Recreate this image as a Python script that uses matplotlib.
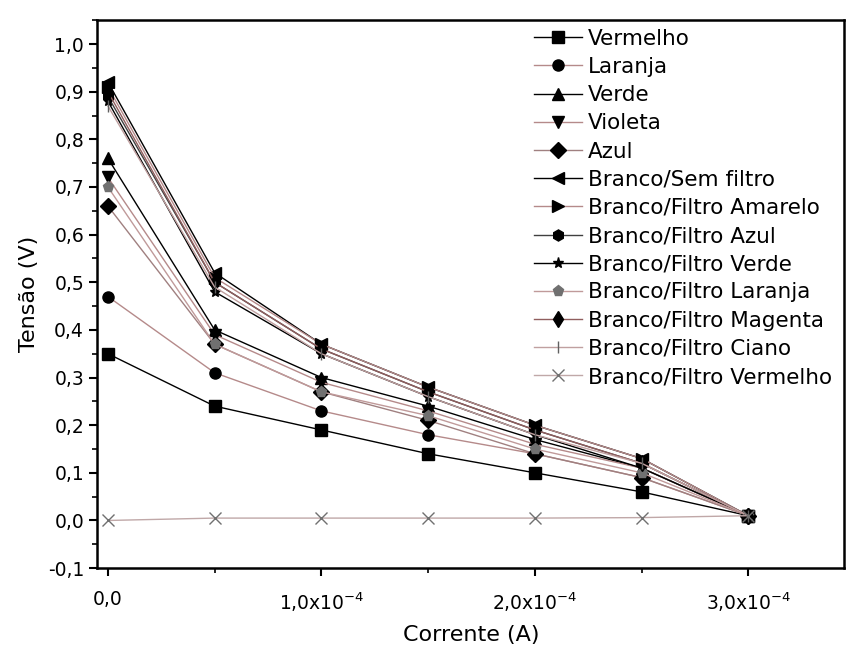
import numpy as np
import matplotlib.pyplot as plt
from matplotlib.ticker import MultipleLocator, FixedLocator

# corrente (unidades de 1e-4 A) e tensões
corrente = [0.0, 0.5, 1.0, 1.5, 2.0, 2.5, 3.0]

vermelho = [0.35, 0.24, 0.19, 0.14, 0.10, 0.06, 0.01]
laranja = [0.47, 0.31, 0.23, 0.18, 0.14, 0.09, 0.01]
verde = [0.76, 0.40, 0.30, 0.24, 0.17, 0.11, 0.01]
violeta = [0.72, 0.39, 0.29, 0.23, 0.16, 0.11, 0.01]
azul = [0.66, 0.37, 0.27, 0.21, 0.14, 0.09, 0.01]
sem_filtro = [0.92, 0.52, 0.37, 0.28, 0.20, 0.13, 0.01]
f_amarelo = [0.91, 0.51, 0.37, 0.28, 0.20, 0.13, 0.01]
f_azul = [0.89, 0.50, 0.36, 0.27, 0.19, 0.12, 0.01]
f_verde = [0.88, 0.48, 0.35, 0.26, 0.18, 0.11, 0.01]
f_laranja = [0.70, 0.37, 0.27, 0.22, 0.15, 0.10, 0.01]
f_magenta = [0.90, 0.50, 0.36, 0.27, 0.19, 0.12, 0.01]
f_ciano = [0.87, 0.49, 0.35, 0.26, 0.18, 0.12, 0.01]
f_vermelho = [0.0, 0.005, 0.005, 0.005, 0.005, 0.006, 0.01]

series = [
    ("Vermelho", vermelho, "s", "black", "black"),
    ("Laranja", laranja, "o", "#b58a8a", "black"),
    ("Verde", verde, "^", "black", "black"),
    ("Violeta", violeta, "v", "#b58a8a", "black"),
    ("Azul", azul, "D", "#a08080", "black"),
    ("Branco/Sem filtro", sem_filtro, "<", "black", "black"),
    ("Branco/Filtro Amarelo", f_amarelo, ">", "#b58a8a", "black"),
    ("Branco/Filtro Azul", f_azul, "h", "#404040", "black"),
    ("Branco/Filtro Verde", f_verde, "*", "black", "black"),
    ("Branco/Filtro Laranja", f_laranja, "p", "#c09a9a", "#707070"),
    ("Branco/Filtro Magenta", f_magenta, "d", "#905e5e", "black"),
    ("Branco/Filtro Ciano", f_ciano, "|", "#c0a0a0", "#606060"),
    ("Branco/Filtro Vermelho", f_vermelho, "x", "#c0a8a8", "#707070"),
]

plt.rcParams['font.family'] = ['DejaVu Sans']

fig = plt.figure(figsize=(8.53, 6.53), dpi=100)
ax = fig.add_axes([0.114, 0.130, 0.876, 0.839])

for nome, v, mk, cor, mcor in series:
    ax.plot(corrente, v, color=cor, lw=1.0, marker=mk, markersize=8,
            markerfacecolor=mcor, markeredgecolor=mcor, label=nome)

ax.set_xlim(-0.05, 3.45)
ax.set_ylim(-0.1, 1.05)

ax.xaxis.set_major_locator(FixedLocator([0, 1, 2, 3]))
ax.xaxis.set_minor_locator(FixedLocator([0.5, 1.5, 2.5]))
ax.set_xticklabels(["0,0", "1,0x10$^{-4}$", "2,0x10$^{-4}$", "3,0x10$^{-4}$"])
ax.yaxis.set_minor_locator(MultipleLocator(0.05))
ax.set_yticks(np.arange(-0.1, 1.01, 0.1))
ax.set_yticklabels([("%.1f" % t).replace(".", ",") for t in np.arange(-0.1, 1.01, 0.1)])

ax.tick_params(which="major", direction="out", length=6, width=1.5, labelsize=13.5)
ax.tick_params(axis="x", which="major", pad=10)
ax.tick_params(which="minor", direction="out", length=3.5, width=1.2)
for s in ax.spines.values():
    s.set_linewidth(1.8)

ax.set_xlabel("Corrente (A)", fontsize=16, labelpad=8)
ax.set_ylabel("Tensão (V)", fontsize=16, labelpad=6)

ax.legend(loc="upper right", bbox_to_anchor=(0.995, 1.0), frameon=False,
          fontsize=15.5, handlelength=2.2, labelspacing=0.38, handletextpad=0.3,
          borderaxespad=0.0)

plt.savefig("out.png", dpi=100)
